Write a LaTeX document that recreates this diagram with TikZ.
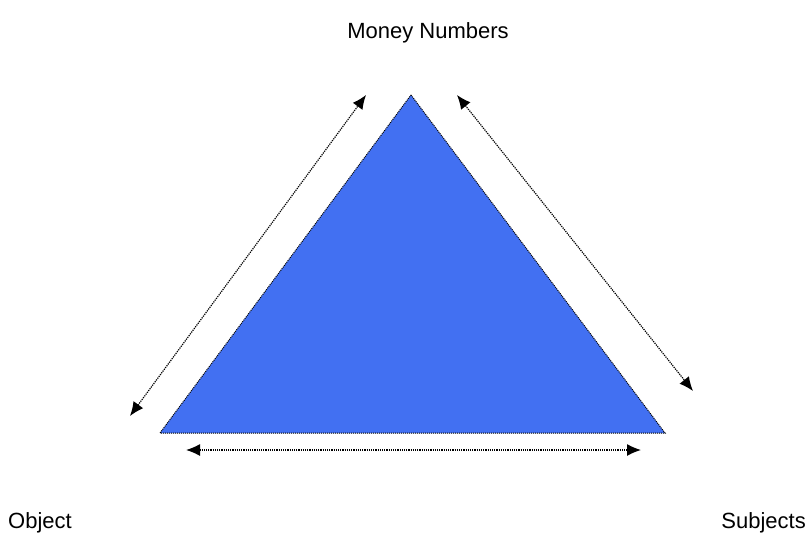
\documentclass[tikz,border=0pt]{standalone}
\usepackage{fontspec}
\setmainfont{Liberation Sans}
\usetikzlibrary{arrows.meta}
\definecolor{triblue}{RGB}{66,112,242}
\begin{document}
\begin{tikzpicture}[x=1pt,y=-1pt,
  lbl/.style={font=\fontsize{22}{26}\selectfont, inner sep=0pt},
  dbl/.style={densely dotted, line width=1.2pt, {Latex[length=14pt,width=12pt]}-{Latex[length=14pt,width=12pt]}}]
\useasboundingbox (0,0) rectangle (806,544);
\fill[white] (0,0) rectangle (806,544);
\coordinate (apex) at (411,95);
\coordinate (bl) at (160,433);
\coordinate (br) at (665,433);
\filldraw[fill=triblue, draw=black, densely dotted, line width=1pt] (apex) -- (br) -- (bl) -- cycle;
\coordinate (a1) at (130,416);
\coordinate (a2) at (366,95);
\coordinate (b1) at (457,95);
\coordinate (b2) at (693,391);
\coordinate (c1) at (186,450);
\coordinate (c2) at (641,450);
\draw[dbl] (a1) -- (a2);
\draw[dbl] (b1) -- (b2);
\draw[dbl] (c1) -- (c2);
\node[lbl] (money) at (428,33) {Money Numbers};
\node[lbl, anchor=west] (object) at (8,523) {Object};
\node[lbl, anchor=east] (subjects) at (806,523) {Subjects};
\end{tikzpicture}
\end{document}
